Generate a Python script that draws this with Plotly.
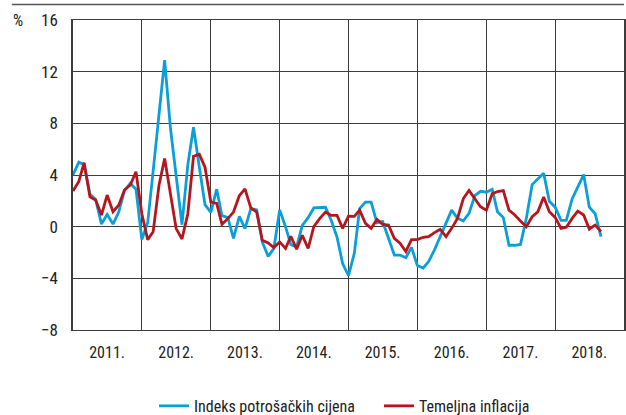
import plotly.graph_objects as go
import pandas as pd

start_month = "2011-01-01"
cpi = [4.0, 5.0, 4.8, 2.5, 2.1, 0.2, 0.95, 0.2, 1.15, 2.8, 3.35, 2.9,
       -1.0, 0.3, 4.3, 8.6, 12.9, 7.6, 3.8, 0.15, 4.8, 7.7, 4.6, 1.7,
       1.1, 2.9, 0.85, 0.7, -0.9, 0.8, -0.15, 1.4, 1.3, -1.2, -2.3, -1.7,
       1.3, 0.0, -1.4, -1.55, 0.1, 0.7, 1.45, 1.45, 1.5, 0.5, -0.8, -2.85,
       -3.8, -2.05, 1.4, 1.9, 1.9, 0.3, 0.4, -0.9, -2.2, -2.2, -2.4, -1.6,
       -3.0, -3.2, -2.7, -1.8, -0.77, 0.26, 1.28, 0.64, 0.46, 1.03, 2.4, 2.74,
       2.67, 2.9, 1.15, 0.7, -1.44, -1.44, -1.38, 0.64, 3.26, 3.7, 4.13, 1.97,
       1.51, 0.49, 0.49, 2.15, 3.05, 4.03, 1.51, 1.0, -0.77]
core = [2.76, 3.5, 4.95, 2.3, 2.06, 0.9, 2.45, 1.16, 1.68, 2.84, 3.23, 4.25,
        1.0, -1.0, -0.4, 3.2, 5.27, 2.5, -0.15, -0.95, 1.0, 5.45, 5.6, 4.6,
        1.9, 1.8, 0.18, 0.62, 1.13, 2.4, 2.92, 1.46, 1.13, -1.05, -1.26, -1.62,
        -1.18, -1.69, -0.74, -1.74, -0.67, -1.69, 0.0, 0.62, 1.13, 0.87, 0.87, -0.13,
        0.82, 0.8, 1.28, 0.26, -0.13, 0.56, 0.18, 0.13, -0.9, -1.28, -1.92, -1.0,
        -1.0, -0.82, -0.77, -0.46, -0.2, -0.77, -0.13, 0.64, 2.18, 2.8, 2.18, 1.54,
        1.28, 2.54, 2.72, 2.8, 1.28, 0.9, 0.44, 0.0, 0.77, 1.15, 2.3, 1.15,
        0.72, -0.13, -0.05, 0.64, 1.2, 0.9, -0.18, 0.13, -0.38]
years = [2011, 2012, 2013, 2014, 2015, 2016, 2017, 2018]
year_labels = ["2011.", "2012.", "2013.", "2014.", "2015.", "2016.", "2017.", "2018."]
y_ticks = [-8, -4, 0, 4, 8, 12, 16]
series_names = ["Indeks potrošačkih cijena", "Temeljna inflacija"]

dates = pd.date_range(start_month, periods=len(cpi), freq="MS")
FONT = "Liberation Sans Narrow, Arial Narrow, Roboto Condensed, Liberation Sans, sans-serif"
GRID = "#3c3c3c"

fig = go.Figure()
fig.add_trace(go.Scatter(x=dates, y=cpi, mode="lines", name=series_names[0],
                         line=dict(color="#0a9fd9", width=2.8)))
fig.add_trace(go.Scatter(x=dates, y=core, mode="lines", name=series_names[1],
                         line=dict(color="#b5161e", width=2.8)))

fig.update_layout(
    width=626, height=415,
    margin=dict(l=73, r=2, t=20, b=85, autoexpand=False),
    paper_bgcolor="white", plot_bgcolor="white",
    font=dict(family=FONT, size=16, color="#222"),
    showlegend=True,
    legend=dict(orientation="h", x=0.147, xanchor="left", y=-0.245, yanchor="middle",
                font=dict(family=FONT, size=16, color="#222"), itemwidth=30,
                entrywidth=180, entrywidthmode="pixels", tracegroupgap=0),
    xaxis=dict(
        range=["2011-01-01", "2019-01-01"], type="date", automargin=False,
        tickvals=[f"{y}-07-01" for y in years], ticktext=year_labels,
        ticks="", showgrid=False, zeroline=False,
        showline=True, linecolor=GRID, linewidth=1, mirror=True,
        minor=dict(tickvals=[f"{y}-01-01" for y in years[1:]], showgrid=True,
                   gridcolor=GRID, gridwidth=1, ticks=""),
        tickfont=dict(size=16), ticklabelstandoff=8,
    ),
    yaxis=dict(
        range=[-8, 16], tickvals=y_ticks, ticks="", showgrid=True, automargin=False,
        gridcolor=GRID, gridwidth=1, zeroline=False,
        showline=True, linecolor=GRID, linewidth=1.5, mirror=True,
        tickfont=dict(size=17), ticklabelstandoff=10,
    ),
    shapes=[dict(type="line", xref="paper", yref="paper", x0=-0.111, x1=1.0,
                 y0=1.05, y1=1.05, line=dict(color="#555", width=1.5))],
    annotations=[dict(text="%", xref="paper", yref="paper", x=-0.112, y=1.0,
                      xanchor="left", yanchor="middle", showarrow=False,
                      font=dict(size=16, family=FONT))],
)

fig.write_html("out.html", config={"displayModeBar": False},
               post_script="document.body.style.margin='0';document.body.style.overflow='hidden';")
